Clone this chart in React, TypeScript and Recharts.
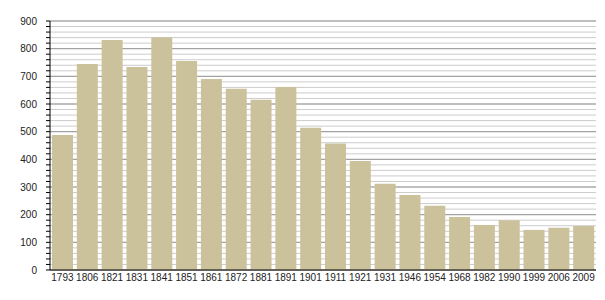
import React from 'react';
import { BarChart, Bar, XAxis, YAxis, CartesianGrid } from 'recharts';

const years = ['1793', '1806', '1821', '1831', '1841', '1851', '1861', '1872', '1881', '1891', '1901', '1911', '1921', '1931', '1946', '1954', '1968', '1982', '1990', '1999', '2006', '2009'];
const population = [488, 745, 831, 734, 841, 755, 690, 655, 615, 661, 514, 457, 394, 312, 271, 232, 192, 163, 180, 145, 153, 159];
const minorTicks = Array.from({ length: 46 }, (_, i) => i * 20);
const majorTicks = [0, 100, 200, 300, 400, 500, 600, 700, 800, 900];

const data = years.map((year, i) => ({ year, pop: population[i] }));

const App: React.FC = () => {
  return (
    <div style={{ position: 'absolute', left: 0, top: 0, fontFamily: '"Liberation Sans", Arial, sans-serif' }}>
      <BarChart width={605} height={300} data={data} margin={{ top: 21, right: 9, left: 0, bottom: 0 }}>
        <CartesianGrid vertical={false} horizontalValues={minorTicks} stroke="#cccccc" />
        <CartesianGrid vertical={false} horizontalValues={majorTicks} stroke="#999999" />
        <XAxis
          dataKey="year"
          height={30}
          tickLine={false}
          tickSize={0}
          tickMargin={4}
          interval={0}
          axisLine={{ stroke: '#000' }}
          tick={{ fontSize: 10, fill: '#222' }}
        />
        <YAxis
          width={50}
          domain={[0, 900]}
          ticks={minorTicks}
          interval={0}
          tickSize={4}
          tickMargin={9}
          tickFormatter={(v: number) => (v % 100 === 0 ? String(v) : '')}
          tickLine={{ stroke: '#000' }}
          axisLine={{ stroke: '#000' }}
          tick={{ fontSize: 10, fill: '#222' }}
        />
        <Bar dataKey="pop" fill="#cbc29c" barSize={21} isAnimationActive={false} />
      </BarChart>
    </div>
  );
};

export default App;
